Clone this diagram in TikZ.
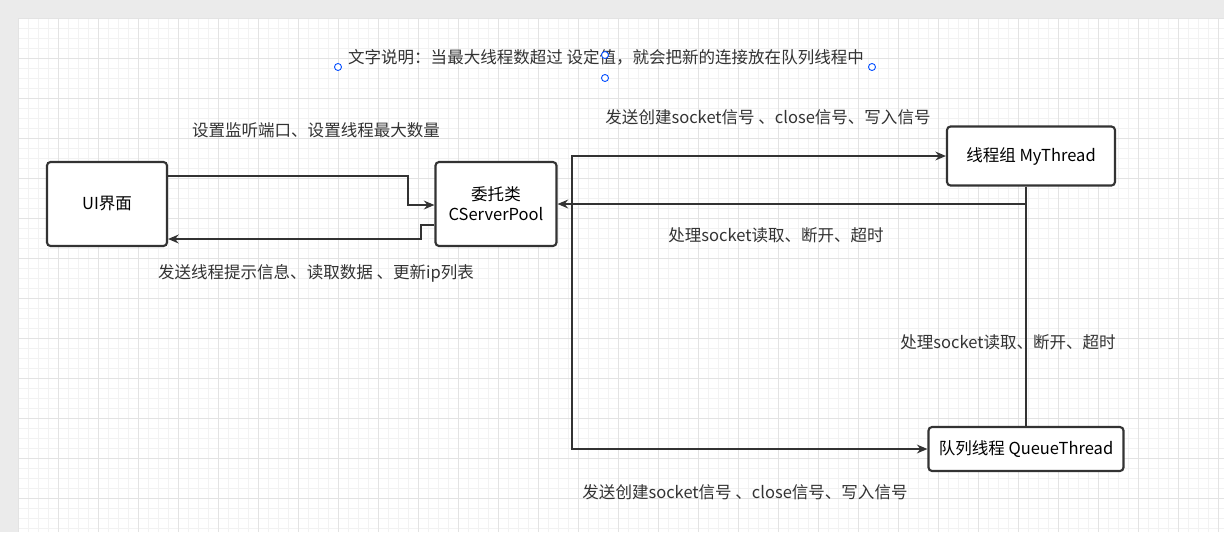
\documentclass[tikz,border=0pt]{standalone}
\usepackage{fontspec}
\setmainfont{Noto Sans CJK SC}
\usetikzlibrary{arrows.meta,positioning,calc}
\tikzset{
  box/.style={draw=black!80, line width=1.2pt, rounded corners=2pt, fill=white, align=center, font=\fontsize{9.4}{11.5}\selectfont},
  link/.style={draw=black!80, line width=1.1pt, -{Stealth[length=6pt,width=5pt]}},
  line/.style={draw=black!80, line width=1.1pt},
  lbl/.style={font=\fontsize{9.4}{11}\selectfont, text=black!80},
  handle/.style={draw=blue!70!cyan, line width=0.5pt, fill=white, circle, inner sep=0pt, minimum size=4pt}
}
\begin{document}
\begin{tikzpicture}[x=0.02cm,y=-0.02cm]
            \useasboundingbox (0,0) rectangle (1224,532);
            \fill[black!8] (0,0) rectangle (1224,532);
            \fill[white] (18,18) rectangle (1224,532);
            \foreach \i in {0,...,120} {
              \draw[black!5, line width=0.3pt] (18+10*\i,18) -- (18+10*\i,532);
            }
            \foreach \j in {0,...,51} {
              \draw[black!5, line width=0.3pt] (18,18+10*\j) -- (1224,18+10*\j);
            }
            \foreach \i in {0,...,30} {
              \draw[black!11, line width=0.4pt] (18+40*\i,18) -- (18+40*\i,532);
            }
            \foreach \j in {0,...,12} {
              \draw[black!11, line width=0.4pt] (18,18+40*\j) -- (1224,18+40*\j);
            }
            % boxes
            \node[box, minimum width=2.4cm, minimum height=1.68cm] (ui) at (107,204) {UI界面};
            \node[box, minimum width=2.42cm, minimum height=1.68cm] (pool) at (496,204) {委托类\\CServerPool};
            \node[box, minimum width=3.36cm, minimum height=1.18cm] (mt) at (1031,156) {线程组 MyThread};
            \node[box, minimum width=3.9cm, minimum height=0.88cm] (qt) at (1026,449) {队列线程 QueueThread};
            % connectors
            \coordinate (p1) at (408,176);
            \coordinate (p2) at (421,225);
            \coordinate (split) at (572,204);
            \coordinate (join) at (1026,204);
            \draw[link] (ui.east |- p1) -- (p1) |- (pool.west |- 0,205);
            \draw[link] (pool.west |- p2) -- (p2) |- (ui.east |- 0,239);
            \draw[link] (split) |- (mt.west);
            \draw[link] (split) |- (qt.west);
            \draw[link] (mt.south -| join) -- (join) -- (pool.east);
            \draw[line] (qt.north) -- (join);
            % labels
            \node[lbl] (note) at (606,57) {文字说明：当最大线程数超过 设定值，就会把新的连接放在队列线程中};
            \node[handle] (h1) at (338,67) {};
            \node[handle] (h2) at (605,55) {};
            \node[handle] (h3) at (605,78) {};
            \node[handle] (h4) at (872,67) {};
            \node[lbl] (l1) at (316,130) {设置监听端口、设置线程最大数量};
            \node[lbl] (l2) at (316,273) {发送线程提示信息、读取数据 、更新ip列表};
            \node[lbl] (l3) at (768,117) {发送创建socket信号 、close信号、写入信号};
            \node[lbl] (l4) at (776,235) {处理socket读取、断开、超时};
            \node[lbl] (l5) at (1008,342) {处理socket读取、断开、超时};
            \node[lbl] (l6) at (745,492) {发送创建socket信号 、close信号、写入信号};
\end{tikzpicture}
\end{document}
